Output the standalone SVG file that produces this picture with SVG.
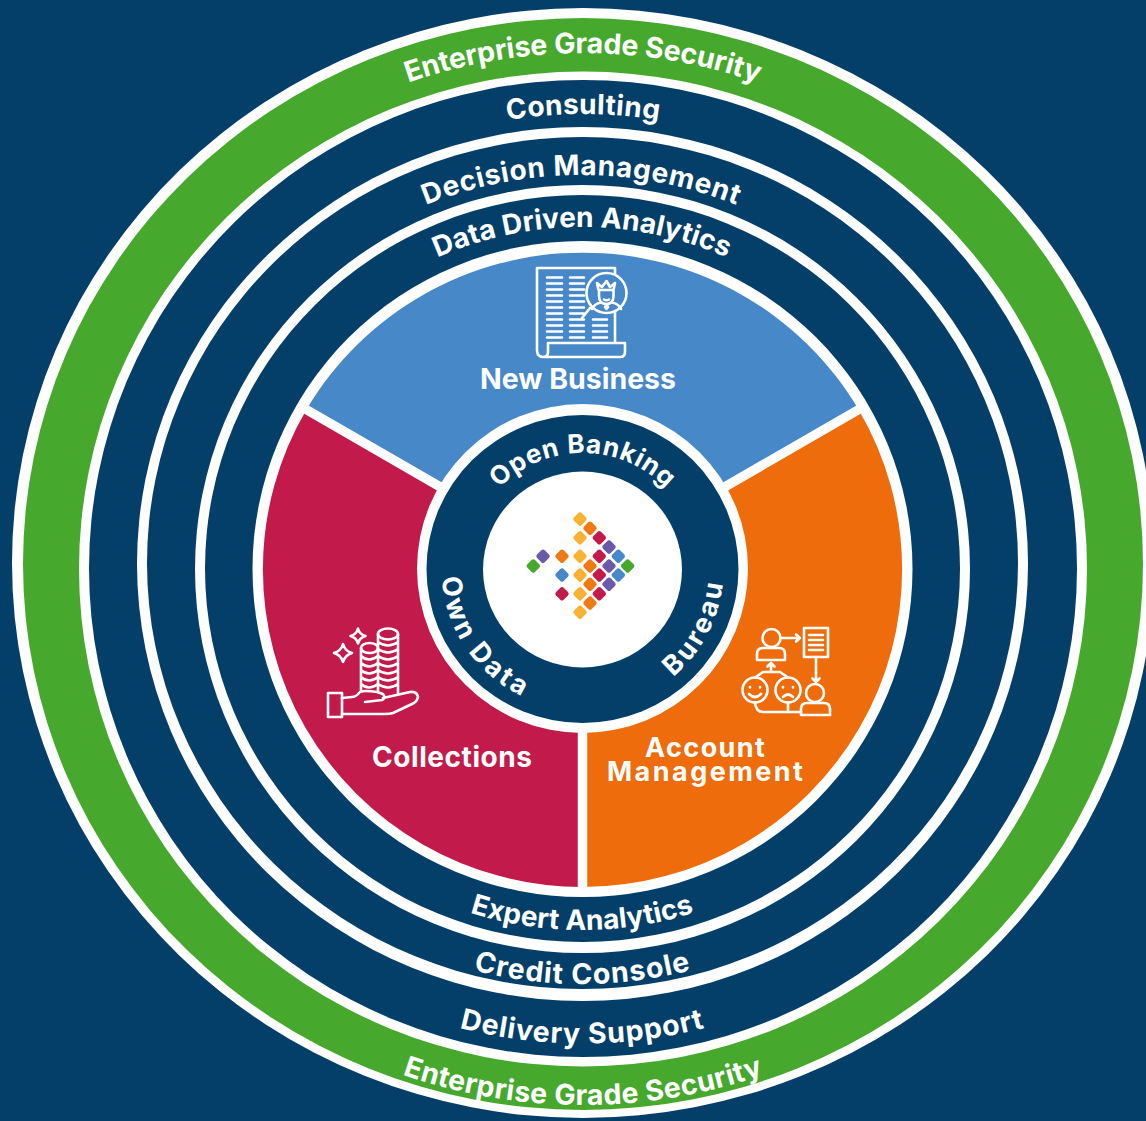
<svg xmlns="http://www.w3.org/2000/svg" width="1146" height="1121" viewBox="0 0 1146 1121">
<style>
.w{fill:#fff}.n{fill:#033f69}.g{fill:#46a92e}
text{font-family:"Inter","Liberation Sans",sans-serif;font-weight:700;fill:#fff;text-anchor:middle}
.ic{fill:none;stroke:#fff;stroke-width:2.6;stroke-linecap:round;stroke-linejoin:round}
.sep{stroke:#fff;stroke-width:9.5;fill:none}
.y{fill:#f9b233}.o{fill:#ee7a14}.c{fill:#c21b4b}.p{fill:#6a5aa8}.b{fill:#4688c8}.l{fill:#46a92e}
</style>
<defs>
<path id="e1" d="M59 569A524 516 0 0 1 1107 569"/>
<path id="e2" d="M38 569A545 536 0 0 0 1128 569"/>
<path id="a1" d="M118 569A465 455 0 0 1 1048 569"/>
<path id="a2" d="M176 569A405 394 0 0 1 986 569"/>
<path id="a3" d="M232 569A350 342 0 0 1 932 569"/>
<path id="b1" d="M216 569A366 361 0 0 0 948 569"/>
<path id="b2" d="M158 569A424 415 0 0 0 1006 569"/>
<path id="b3" d="M100 569A482 474.500 0 0 0 1064 569"/>
<path id="c1" d="M466.5 569A116 116 0 0 1 698.5 569"/>
<path id="c2" d="M447 530A141 141 0 0 0 567.8 709.2"/>
<path id="c3" d="M623.7 703.8A141 141 0 0 0 717.3 527.8"/>
<rect id="d" x="-5.4" y="-5.4" width="10.8" height="10.8" rx="2.4" transform="rotate(45)"/>
</defs>
<rect width="1146" height="1121" class="n"/>
<g id="ring-security">
<ellipse class="w" cx="583" cy="563" rx="571" ry="555"/>
<ellipse class="g" cx="583" cy="564" rx="560" ry="546"/>
<text font-size="28.5"><textPath href="#e1" startOffset="50%" textLength="356">Enterprise Grade Security</textPath></text>
<text font-size="28.5"><textPath href="#e2" startOffset="50%" textLength="368">Enterprise Grade Security</textPath></text>
</g>
<g id="ring-services">
<ellipse class="w" cx="583" cy="569" rx="504" ry="497.5"/>
<ellipse class="n" cx="583" cy="568.5" rx="494" ry="488.5"/>
<text font-size="28"><textPath href="#a1" startOffset="50%" textLength="152">Consulting</textPath></text>
<text font-size="28.5"><textPath href="#b3" startOffset="50%" textLength="248">Delivery Support</textPath></text>
</g>
<g id="ring-decision">
<ellipse class="w" cx="582.5" cy="564" rx="445.5" ry="437"/>
<ellipse class="n" cx="582.5" cy="563" rx="435.5" ry="426"/>
<text font-size="28"><textPath href="#a2" startOffset="50%" textLength="318">Decision Management</textPath></text>
<text font-size="28.5"><textPath href="#b2" startOffset="50%" textLength="220">Credit Console</textPath></text>
</g>
<g id="ring-analytics">
<ellipse class="w" cx="582.5" cy="569" rx="387.5" ry="384"/>
<ellipse class="n" cx="582.5" cy="568.5" rx="377.5" ry="373.5"/>
<text font-size="28"><textPath href="#a3" startOffset="50%" textLength="298">Data Driven Analytics</textPath></text>
<text font-size="28"><textPath href="#b1" startOffset="50%" textLength="228">Expert Analytics</textPath></text>
</g>
<ellipse class="w" cx="582.5" cy="569" rx="330" ry="328"/>
<g id="new-business">
<path fill="#4688c8" d="M582.5 569.5L306.5 409.5A320 317.5 0 0 1 858.5 409.5Z"/>
<path class="ic" d="M537 268V350Q537 357 543 357H620Q625 357 625 352V343H548V352Q548 357 543 357M537 268H615V343"/>
<path class="ic" d="M547 277.5h15M570 277.5h14M547 283.5h15M570 283.5h14M547 289.5h15M570 289.5h14M547 295.5h15M570 295.5h14M547 301.5h15M570 301.5h14M547 307.5h15M570 307.5h14M547 313.5h15M570 313.5h14M547 319.5h15M570 319.5h14M547 325.5h15M570 325.5h14M547 331.5h15M570 331.5h14M547 337.5h15M570 337.5h14M593 319.5h14M593 325.5h14M593 331.5h14M593 337.5h14"/>
<circle cx="606.5" cy="293" r="20" fill="#4688c8" stroke="#fff" stroke-width="2.6"/>
<path class="ic" d="M590 308L582 318M598.5 290L597 283L602 287L606.5 281L610 287L615 283L613.5 290ZM599 290V296Q599 304 606.5 304Q613.5 304 613.5 296V290M592 309Q594 304 601 302.5M621 309Q619 304 612 302.5M604 299.5Q606.5 301 609 299.5M606.5 304L608 307L606.5 309L605 307Z"/>
<text x="578" y="389" font-size="28.5" textLength="196">New Business</text>
</g>
<g id="collections">
<path fill="#c21b4b" d="M582.5 569.5L306.5 409.5A320 317.5 0 0 0 582.5 887Z"/>
<path class="ic" d="M358 628.500Q359.500 634.500 365.500 636Q359.500 637.500 358 643.500Q356.500 637.500 350.500 636Q356.500 634.500 358 628.500ZM343 644Q345 651 352 653Q345 655 343 662Q341 655 334 653Q341 651 343 644Z"/>
<ellipse class="ic" cx="388" cy="634" rx="10" ry="5.5"/>
<path class="ic" d="M378 634V692M398 634V694M378 642Q388 649 398 642M378 649Q388 656 398 649M378 656Q388 663 398 656M378 663Q388 670 398 663M378 670Q388 677 398 670M378 677Q388 684 398 677M378 684Q388 691 398 684"/>
<ellipse class="ic" cx="369.500" cy="648" rx="8.500" ry="5"/>
<path class="ic" d="M361 648V690M361 656Q369 663 378 656M361 663Q369 670 378 663M361 670Q369 677 378 670M361 677Q369 684 378 677M361 684Q369 691 378 684"/>
<rect class="ic" x="328" y="693" width="14" height="24"/>
<path class="ic" d="M342 698L352 697Q356 697 360 692Q364 690 377 692L383 694Q386 698 382 700L365 702M383 698L410 692Q417 691 418 697Q417 702 412 704L393 713Q390 714 385 714H342"/>
<text x="452" y="767" font-size="28" textLength="160">Collections</text>
</g>
<g id="account-management">
<path fill="#ee6c0b" d="M582.5 569.5L858.5 409.500A320 317.5 0 0 1 582.5 887Z"/>
<circle class="ic" cx="771.500" cy="638" r="9"/>
<path class="ic" d="M757 660V654Q757 648 763 648H779Q785 648 785 654V660Z"/>
<path class="ic" d="M781 638H800M796 634.500L800 638L796 641.500"/>
<rect class="ic" x="804" y="628" width="24" height="29"/>
<path class="ic" d="M809 635h14M809 640h14M809 645h14M809 650h14"/>
<path class="ic" d="M816 657V682M812.500 678.500L816 682L819.500 678.500"/>
<circle class="ic" cx="815" cy="693" r="9"/>
<path class="ic" d="M801 715V709Q801 703 807 703H824Q830 703 830 709V715Z"/>
<circle class="ic" cx="755" cy="690" r="12.500"/>
<circle class="ic" cx="788" cy="690" r="12.500"/>
<path class="ic" d="M750 687v.5M760 687v.5M749 694Q755 700 761 694M783 687v.5M793 687v.5M783 697Q788 692 793 697M755 677.500L763 672H780L788 677.500M771 672V663M767.500 666.500L771 663L774.500 666.500M755 702.500Q756 712 763 712H801M788 702.500V712"/>
<text x="705" y="757" font-size="27" textLength="120">Account</text>
<text x="705" y="781" font-size="27" textLength="196">Management</text>
</g>
<g id="connectors">
<path class="sep" d="M582.500 569L301 406.500M582.500 569L864 406.500M582.500 569V892"/>
</g>
<g id="data-sources">
<ellipse class="w" cx="582.500" cy="568.500" rx="165.500" ry="164.500"/>
<ellipse class="n" cx="582.500" cy="569" rx="156" ry="154"/>
<text font-size="26"><textPath href="#c1" startOffset="50%" textLength="186">Open Banking</textPath></text>
<text font-size="27"><textPath href="#c2" startOffset="50%" textLength="150">Own Data</textPath></text>
<text font-size="27"><textPath href="#c3" startOffset="50%" textLength="108">Bureau</textPath></text>
</g>
<g id="logo">
<ellipse class="w" cx="582.500" cy="569.500" rx="99.500" ry="98"/>
<use href="#d" class="y" x="580" y="519"/><use href="#d" class="o" x="590" y="528.300"/><use href="#d" class="y" x="580" y="537.700"/><use href="#d" class="c" x="599.300" y="537.700"/><use href="#d" class="p" x="609" y="547"/><use href="#d" class="b" x="618.300" y="556.300"/><use href="#d" class="l" x="627.700" y="566"/><use href="#d" class="b" x="618.300" y="575"/><use href="#d" class="p" x="609" y="584.300"/><use href="#d" class="c" x="599.300" y="593.700"/><use href="#d" class="o" x="590" y="603"/><use href="#d" class="y" x="580" y="612.300"/><use href="#d" class="y" x="580" y="593.700"/><use href="#d" class="o" x="590" y="584.300"/><use href="#d" class="c" x="599.300" y="575"/><use href="#d" class="p" x="609" y="566"/><use href="#d" class="c" x="599.300" y="556.300"/><use href="#d" class="o" x="590" y="566"/><use href="#d" class="y" x="580" y="556.300"/><use href="#d" class="y" x="580" y="575"/><use href="#d" class="o" x="562" y="556.300"/><use href="#d" class="b" x="562" y="575"/><use href="#d" class="c" x="562" y="593.700"/><use href="#d" class="p" x="543" y="556.300"/><use href="#d" class="l" x="533.300" y="566"/>
</g>
</svg>
